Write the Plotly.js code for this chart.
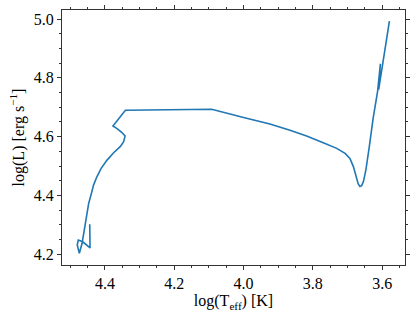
<!DOCTYPE html>
<html>
<head>
<meta charset="utf-8">
<script src="https://cdn.plot.ly/plotly-3.0.1.min.js"></script>
<style>html,body{margin:0;padding:0;background:#fff;}#chart{width:415px;height:316px;}</style>
</head>
<body>
<div id="chart"></div>
<script>
// Evolutionary track (HR diagram)
const logTeff = [4.444, 4.443, 4.464, 4.477, 4.480, 4.474, 4.466, 4.461, 4.457, 4.452, 4.447, 4.439, 4.433, 4.423, 4.411, 4.394, 4.375, 4.356, 4.346, 4.342, 4.351, 4.365, 4.377, 4.341,
  4.092, 4.000, 3.924, 3.866, 3.818, 3.770, 3.731, 3.707, 3.693, 3.683, 3.674, 3.669, 3.664, 3.659, 3.654, 3.647, 3.637,
  3.626, 3.613, 3.605, 3.610, 3.601, 3.579];
const logL = [4.302, 4.221, 4.242, 4.248, 4.231, 4.203, 4.237, 4.271, 4.305, 4.339, 4.373, 4.407, 4.435, 4.464, 4.492, 4.520, 4.545, 4.566, 4.583, 4.602, 4.614, 4.627, 4.636, 4.690,
  4.693, 4.665, 4.643, 4.622, 4.602, 4.579, 4.560, 4.543, 4.526, 4.498, 4.458, 4.439, 4.430, 4.433, 4.447, 4.486, 4.566,
  4.662, 4.755, 4.848, 4.760, 4.827, 4.993];
const xTicks = [4.4, 4.2, 4.0, 3.8, 3.6];
const xTickText = ['4.4', '4.2', '4.0', '3.8', '3.6'];
const yTicks = [4.2, 4.4, 4.6, 4.8, 5.0];
const yTickText = ['4.2', '4.4', '4.6', '4.8', '5.0'];

const serif = 'Liberation Serif, Times New Roman, serif';
const trace = {
  x: logTeff, y: logL, type: 'scatter', mode: 'lines',
  line: {color: '#1f77b4', width: 1.6, shape: 'linear'}
};
const axisCommon = {
  showgrid: false, zeroline: false, showline: true, linecolor: '#333', linewidth: 1,
  mirror: 'ticks', ticks: 'outside', ticklen: 4, tickwidth: 1, tickcolor: '#333',
  tickfont: {family: serif, size: 16, color: '#000'},
  minor: {ticks: 'outside', dtick: 0.05, ticklen: 2, tickwidth: 1, tickcolor: '#333'}
};
const layout = {
  width: 415, height: 316,
  margin: {l: 62, r: 10, t: 10, b: 51},
  paper_bgcolor: '#fff', plot_bgcolor: '#fff',
  showlegend: false,
  xaxis: Object.assign({}, axisCommon, {
    range: [4.524, 3.534], tickvals: xTicks, ticktext: xTickText,
    title: {text: 'log(T<sub>eff</sub>) [K]', font: {family: serif, size: 16, color: '#000'}, standoff: 2}
  }),
  yaxis: Object.assign({}, axisCommon, {
    range: [4.163, 5.031], tickvals: yTicks, ticktext: yTickText,
    title: {text: 'log(L) [erg s<sup>\u22121</sup>]', font: {family: serif, size: 16, color: '#000'}, standoff: 5}
  })
};
Plotly.newPlot('chart', [trace], layout, {displayModeBar: false, staticPlot: true});
</script>
</body>
</html>
